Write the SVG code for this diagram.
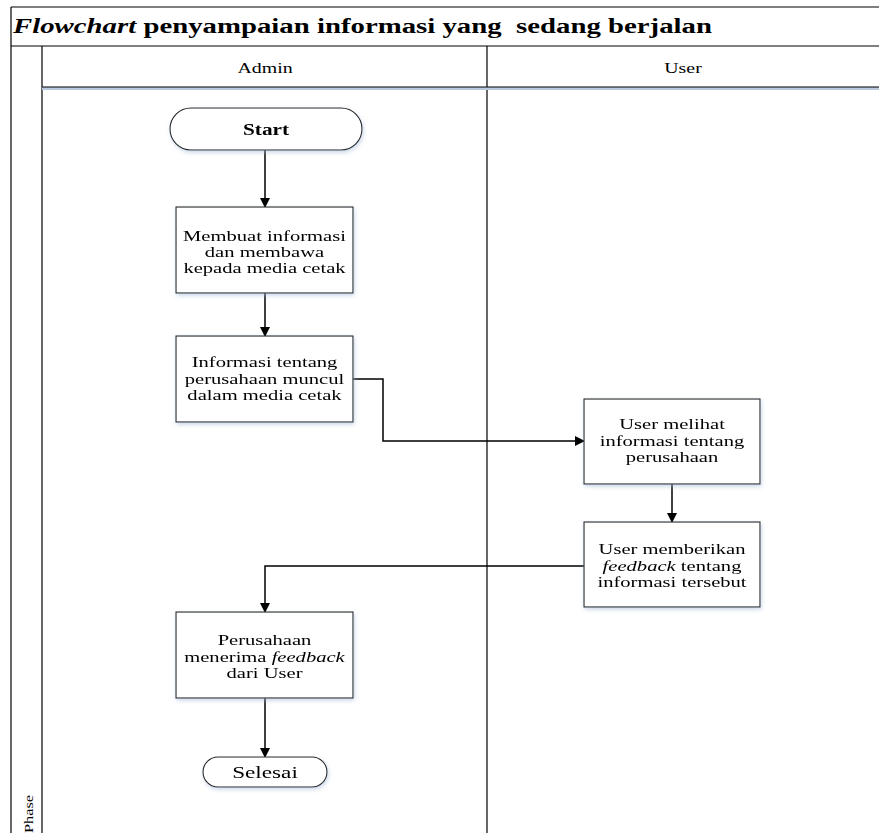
<svg xmlns="http://www.w3.org/2000/svg" width="879" height="833" viewBox="0 0 879 833">
<defs>
<style>
.frame{fill:none;stroke:#000;stroke-width:1.2}
.box{fill:#fff;stroke:#222;stroke-width:1.1}
.t{font-family:"Liberation Serif","Times New Roman",serif;font-size:14.5px;text-anchor:middle;fill:#000}
.h{font-family:"Liberation Serif","Times New Roman",serif;font-size:14px;text-anchor:middle;fill:#000}
.c{fill:none;stroke:#000;stroke-width:1.5}
</style>
<filter id="sh" x="-10%" y="-10%" width="130%" height="130%">
<feGaussianBlur in="SourceAlpha" stdDeviation="2" result="b"/>
<feOffset dx="1" dy="2" result="o"/>
<feFlood flood-color="#9fb6d6" flood-opacity="0.55"/>
<feComposite in2="o" operator="in" result="s"/>
<feMerge><feMergeNode in="s"/><feMergeNode in="SourceGraphic"/></feMerge>
</filter>
<marker id="ar" markerWidth="10" markerHeight="10" refX="9" refY="5" orient="auto" markerUnits="userSpaceOnUse">
<path d="M0,0 L10,5 L0,10 z" fill="#000"/>
</marker>
</defs>
<rect width="879" height="833" fill="#fff"/>
<g id="pool">
<line class="frame" x1="11" y1="7" x2="879" y2="7"/>
<line class="frame" x1="11" y1="7" x2="11" y2="833"/>
<line class="frame" x1="11" y1="46" x2="879" y2="46"/>
<line class="frame" x1="42" y1="46" x2="42" y2="833"/>
<line class="frame" x1="487" y1="46" x2="487" y2="833"/>
<line x1="42" y1="88.5" x2="879" y2="88.5" stroke="#b8c8de" stroke-width="3"/>
<line class="frame" x1="42" y1="87" x2="879" y2="87"/>
<text xml:space="preserve" transform="translate(13,33) scale(1.44,1)" font-family="Liberation Serif,'Times New Roman',serif" font-size="20" font-weight="bold"><tspan font-style="italic">Flowchart</tspan> penyampaian informasi yang  sedang berjalan</text>
<text class="h" transform="translate(265,73) scale(1.42,1)">Admin</text>
<text class="h" transform="translate(683,73) scale(1.42,1)">User</text>
<text class="h" transform="translate(33,833) rotate(-90) scale(1.36,1)" style="text-anchor:start;font-size:12px;font-weight:normal">Phase</text>
</g>
<g id="connectors">
<line class="c" x1="265" y1="150" x2="265" y2="207" marker-end="url(#ar)"/>
<line class="c" x1="265" y1="293" x2="265" y2="336" marker-end="url(#ar)"/>
<polyline class="c" points="353,379 383,379 383,441 584,441" marker-end="url(#ar)"/>
<line class="c" x1="672" y1="484" x2="672" y2="522" marker-end="url(#ar)"/>
<polyline class="c" points="584,566 265,566 265,612" marker-end="url(#ar)"/>
<line class="c" x1="265" y1="698" x2="265" y2="757" marker-end="url(#ar)"/>
</g>
<g id="start" filter="url(#sh)">
<rect class="box" x="170" y="108" width="192" height="42" rx="21"/>
<text class="t" transform="translate(266,135) scale(1.33,1)" style="font-size:16px" font-weight="bold">Start</text>
</g>
<g id="n1" filter="url(#sh)">
<rect class="box" x="176" y="207" width="177" height="86"/>
<text class="t" transform="translate(264.5,241) scale(1.42,1)">Membuat informasi</text>
<text class="t" transform="translate(264.5,257) scale(1.42,1)">dan membawa</text>
<text class="t" transform="translate(264.5,273) scale(1.42,1)">kepada media cetak</text>
</g>
<g id="n2" filter="url(#sh)">
<rect class="box" x="176" y="336" width="177" height="86"/>
<text class="t" transform="translate(264.5,367) scale(1.42,1)">Informasi tentang</text>
<text class="t" transform="translate(264.5,384) scale(1.42,1)">perusahaan muncul</text>
<text class="t" transform="translate(264.5,400) scale(1.42,1)">dalam media cetak</text>
</g>
<g id="n3" filter="url(#sh)">
<rect class="box" x="584" y="399" width="176" height="85"/>
<text class="t" transform="translate(672,429) scale(1.42,1)">User melihat</text>
<text class="t" transform="translate(672,446) scale(1.42,1)">informasi tentang</text>
<text class="t" transform="translate(672,462) scale(1.42,1)">perusahaan</text>
</g>
<g id="n4" filter="url(#sh)">
<rect class="box" x="584" y="522" width="176" height="85"/>
<text class="t" transform="translate(672,554) scale(1.42,1)">User memberikan</text>
<text class="t" transform="translate(672,571) scale(1.42,1)"><tspan font-style="italic">feedback</tspan> tentang</text>
<text class="t" transform="translate(672,587) scale(1.42,1)">informasi tersebut</text>
</g>
<g id="n5" filter="url(#sh)">
<rect class="box" x="176" y="612" width="177" height="86"/>
<text class="t" transform="translate(264.5,645) scale(1.42,1)">Perusahaan</text>
<text class="t" transform="translate(264.5,662) scale(1.42,1)">menerima <tspan font-style="italic">feedback</tspan></text>
<text class="t" transform="translate(264.5,678) scale(1.42,1)">dari User</text>
</g>
<g id="end" filter="url(#sh)">
<rect class="box" x="203" y="757" width="124" height="30" rx="15"/>
<text class="t" transform="translate(265,778) scale(1.45,1)" style="font-size:16px">Selesai</text>
</g>
</svg>
